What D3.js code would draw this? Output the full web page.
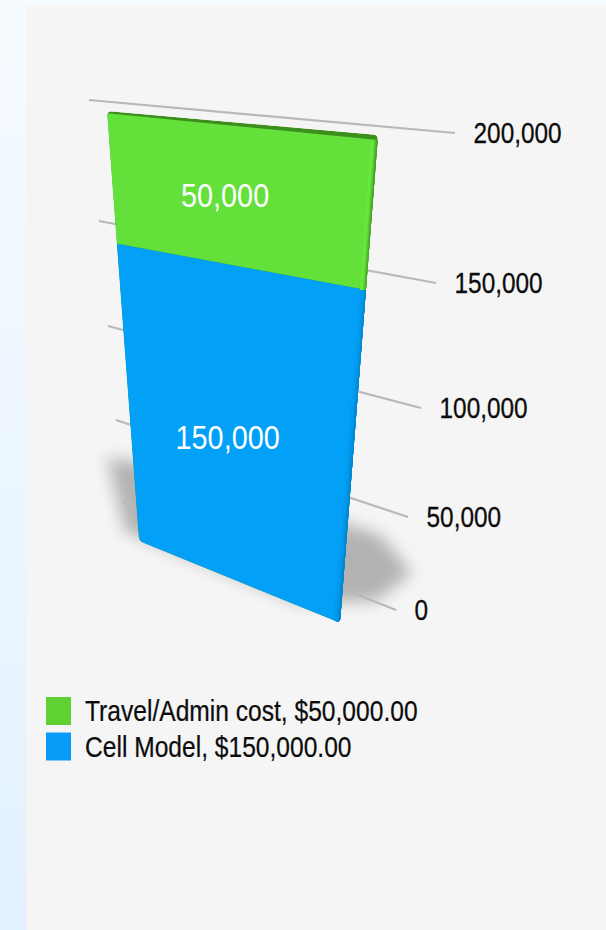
<!DOCTYPE html>
<html><head><meta charset="utf-8">
<script src="https://cdn.jsdelivr.net/npm/d3@7"></script>
<style>html,body{margin:0;padding:0;background:#fff}svg{display:block}text{font-family:"Liberation Sans",Arial,sans-serif}</style>
</head><body><svg id="c" width="606" height="930"></svg>
<script>
const seriesNames = ["Cell Model", "Travel/Admin cost"];
const seriesValues = [150000, 50000];
const seriesColors = ["#02a0f6", "#64e03b"];
const legendColors = ["#0a9bf7", "#5fd133"];
const legendOrder = [1, 0];
const tickValues = [0, 50000, 100000, 150000, 200000];

const W = 606, H = 930;
const svg = d3.select("#c");
const defs = svg.append("defs");

// Perspective is modelled by piecewise scales along each receding edge.
const gridLX = d3.scaleLinear().domain(tickValues).range([123,116,108,99,89]);
const gridLY = d3.scaleLinear().domain(tickValues).range([502,420,326,221,100]);
const gridRX = d3.scaleLinear().domain(tickValues).range([396,408,421,436,455]);
const gridRY = d3.scaleLinear().domain(tickValues).range([610,517,408,283,133]);
const barLX = d3.scaleLinear().domain([0,150000,200000]).range([139,116.5,107]);
const barLY = d3.scaleLinear().domain([0,150000,200000]).range([541,243.5,111]);
const barRX = d3.scaleLinear().domain([0,150000,200000]).range([340,367,378]);
const barRY = d3.scaleLinear().domain([0,150000,200000]).range([623,290,135]);

const stack = d3.stack().keys(seriesNames.map((_, i) => i)).value((d, k) => d[k]);
const layers = stack([seriesValues]).map((l, i) => ({i, y0: l[0][0], y1: l[0][1]}));
const maxV = d3.max(layers, d => d.y1);
const poly = d3.line();

function rounded(pts, r) {
  const p = d3.path(), n = pts.length;
  pts.forEach((c, i) => {
    const a = pts[(i+n-1)%n], b = pts[(i+1)%n];
    const toward = (q) => { const d = Math.hypot(q[0]-c[0], q[1]-c[1]); return [c[0]+(q[0]-c[0])*r/d, c[1]+(q[1]-c[1])*r/d]; };
    const s = toward(a), e = toward(b);
    if (i === 0) p.moveTo(s[0], s[1]); else p.lineTo(s[0], s[1]);
    p.quadraticCurveTo(c[0], c[1], e[0], e[1]);
  });
  p.closePath();
  return p.toString();
}

// page background
const bg = defs.append("linearGradient").attr("id","bg").attr("x1",0).attr("x2",0).attr("y1",0).attr("y2",1);
bg.append("stop").attr("offset",0).attr("stop-color","#f6fbff");
bg.append("stop").attr("offset",1).attr("stop-color","#e2f1ff");
svg.append("rect").attr("width",W).attr("height",H).attr("fill","url(#bg)");
svg.append("rect").attr("x",26).attr("y",5).attr("width",W-26).attr("height",H-5).attr("fill","#f5f5f5");

// shadow
defs.append("filter").attr("id","blur").attr("x","-30%").attr("y","-30%").attr("width","160%").attr("height","160%")
  .append("feGaussianBlur").attr("stdDeviation",8);
const bl = [barLX(0), barLY(0)], br = [barRX(0), barRY(0)];
svg.append("path").attr("filter","url(#blur)").attr("fill","#b2b2b2")
  .attr("d", poly([[bl[0]-32,bl[1]-84],[bl[0]+40,bl[1]-70],[br[0]+40,br[1]-88],[br[0]+72,br[1]-50],[br[0]+36,br[1]-22],[br[0]-40,br[1]-20],[bl[0]-14,bl[1]-10]])+"Z");

// gridlines
svg.append("g").selectAll("line").data(tickValues).join("line")
  .attr("x1",gridLX).attr("y1",gridLY).attr("x2",gridRX).attr("y2",gridRY)
  .attr("stroke","#b8b8b8").attr("stroke-width",2.2);

// tick labels
const fmt = d3.format(",");
const stretched = (sel, k) => sel.attr("transform", d => `translate(${d.x},${d.y}) scale(1,${k})`);
stretched(svg.append("g").selectAll("text")
  .data(tickValues.map(v => ({v, x: gridRX(v)+18.5, y: gridRY(v)+10}))).join("text")
  .text(d => fmt(d.v)).attr("font-size",24.4).attr("fill","#0c0c0c")
  .attr("stroke","#0c0c0c").attr("stroke-width",0.25), 1.2);

// bar
const corners = (a, b) => [[barLX(a),barLY(a)],[barRX(a),barRY(a)],[barRX(b),barRY(b)],[barLX(b),barLY(b)]];
defs.append("clipPath").attr("id","sil").append("path").attr("d", rounded(corners(0, maxV), 5));
const barG = svg.append("g").attr("clip-path","url(#sil)");
barG.append("path").attr("d", poly(corners(0,maxV))+"Z").attr("fill","#3c8f1d");

const stripOffsets = [7, 5.5, 4, 3, 2, 1];
const stripK = [[-0.05, -0.1, -0.18, -0.3, -0.42, -0.55], [0.1, 0.05, -0.15, -0.45, -0.8, -1.15]];
layers.forEach(l => {
  const top = l.i === layers.length-1;
  const c = d3.color(seriesColors[l.i]);
  const pts = corners(l.y0, l.y1);
  if (top) { // the upper surface shows as a dark sliver above the face
    pts[2] = [pts[2][0], pts[2][1]+5];
    pts[3] = [pts[3][0]-1, pts[3][1]+2.2];
  }
  barG.append("path").attr("d", poly(pts)+"Z").attr("fill",c.formatHex());
  stripOffsets.forEach((w, j) => {
    const k = stripK[l.i][j];
    const col = k > 0 ? c.brighter(k) : c.darker(-k);
    barG.append("path").attr("fill",col.formatHex())
      .attr("d", poly([[pts[1][0]-w,pts[1][1]],[pts[1][0]+2,pts[1][1]],[pts[2][0]+2,pts[2][1]],[pts[2][0]-w,pts[2][1]]])+"Z");
  });
});

// value labels
const labelOffsets = [[-13, 25], [-17, 12]];
const midX = l => (barLX((l.y0+l.y1)/2)+barRX((l.y0+l.y1)/2))/2;
const midY = l => (barLY((l.y0+l.y1)/2)+barRY((l.y0+l.y1)/2))/2;
stretched(svg.append("g").selectAll("text")
  .data(layers.map(l => ({v: seriesValues[l.i], x: midX(l)+labelOffsets[l.i][0], y: midY(l)+labelOffsets[l.i][1]}))).join("text")
  .text(d => fmt(d.v)).attr("font-size",28.8).attr("text-anchor","middle").attr("fill","#fff"), 1.13);

// legend
const legendY = d3.scaleBand().domain(legendOrder).range([696,767]);
const money = d3.format("$,.2f");
const lg = svg.append("g").selectAll("g").data(legendOrder).join("g")
  .attr("transform", i => `translate(46,${legendY(i)})`);
lg.append("rect").attr("y",1).attr("width",25).attr("height",28).attr("fill",i => legendColors[i]);
lg.append("text").attr("font-size",24.6).attr("fill","#0c0c0c").attr("stroke","#0c0c0c").attr("stroke-width",0.2)
  .attr("transform","translate(39,25) scale(1,1.18)")
  .text(i => `${seriesNames[i]}, ${money(seriesValues[i])}`);
</script></body></html>
